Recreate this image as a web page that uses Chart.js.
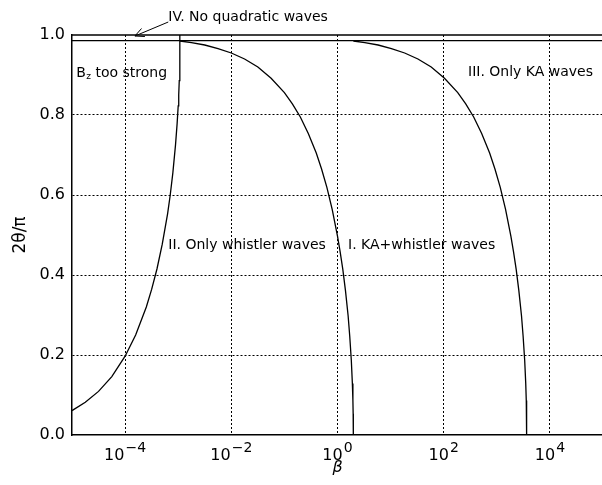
<!DOCTYPE html>
<html>
<head>
<meta charset="utf-8">
<script src="https://cdn.jsdelivr.net/npm/chart.js@4.4.1/dist/chart.umd.min.js"></script>
<style>
  html, body { margin: 0; padding: 0; background: #fff; overflow: hidden; }
  #wrap { width: 606px; height: 485px; }
</style>
</head>
<body>
<div id="wrap"><canvas id="chart" width="606" height="485"></canvas></div>
<script>
// x: beta, y: 2*theta/pi

// left boundary (B_z too strong | only whistler)
const bzBeta  = [1.0e-5, 1.78e-5, 3.16e-5, 5.62e-5, 1.0e-4, 1.58e-4, 2.51e-4, 3.16e-4, 3.98e-4, 5.01e-4, 6.31e-4, 7.08e-4,
                 7.94e-4, 8.91e-4, 9.55e-4, 1.0e-3, 1.023e-3, 1.047e-3, 1.059e-3, 1.072e-3, 1.081e-3, 1.081e-3];
const bzAngle = [0.061, 0.082, 0.109, 0.146, 0.197, 0.250, 0.320, 0.364, 0.415, 0.477, 0.553, 0.600,
                 0.656, 0.726, 0.779, 0.823, 0.850, 0.886, 0.909, 0.939, 0.986, 1.0];

// middle boundary (only whistler | KA+whistler)
const kaBeta  = [1.081e-3, 1.778e-3, 3.162e-3, 5.623e-3, 0.01, 0.01778, 0.03162, 0.05623, 0.1, 0.1413, 0.1995, 0.2818, 0.3981,
                 0.5012, 0.631, 0.7943, 1.0, 1.122, 1.259, 1.413, 1.585, 1.698, 1.82, 1.905, 1.95, 1.972, 1.986];
const kaAngle = [0.985, 0.981, 0.975, 0.966, 0.955, 0.940, 0.920, 0.892, 0.856, 0.828, 0.795, 0.754, 0.705,
                 0.665, 0.619, 0.564, 0.497, 0.458, 0.414, 0.361, 0.298, 0.248, 0.187, 0.129, 0.086, 0.053, 0.0];

// right boundary (KA+whistler | only KA)
const whBeta  = [1.99, 3.27, 5.82, 10.35, 18.4, 32.7, 58.2, 103.5, 184, 260, 367, 519, 733,
                 923, 1162, 1462, 1841, 2066, 2318, 2601, 2918, 3126, 3351, 3507, 3590, 3630, 3656];
const whAngle = [0.985, 0.981, 0.975, 0.966, 0.955, 0.940, 0.920, 0.892, 0.856, 0.828, 0.795, 0.754, 0.705,
                 0.665, 0.619, 0.564, 0.497, 0.458, 0.414, 0.361, 0.298, 0.248, 0.187, 0.129, 0.086, 0.053, 0.0];

// region IV lower edge
const quadBeta  = [1.0e-5, 1.0e5];
const quadAngle = [0.986, 0.986];

const xTickValues = [1e-4, 1e-2, 1, 1e2, 1e4];
const yTickStep = 0.2;

const FONT = '"DejaVu Sans", sans-serif';

function toPoints(xs, ys) {
  return xs.map((v, i) => ({ x: v, y: ys[i] }));
}

function curve(xs, ys) {
  return {
    data: toPoints(xs, ys),
    showLine: true,
    borderColor: '#000',
    borderWidth: 1.3,
    pointRadius: 0,
    tension: 0
  };
}

// frame top edge, x tick labels, region labels and arrow
const decorations = {
  id: 'decorations',
  afterDraw(chart) {
    const { ctx, chartArea: area, scales: { x, y } } = chart;
    ctx.save();

    ctx.strokeStyle = '#000';
    ctx.lineWidth = 1.5;
    ctx.beginPath();
    ctx.moveTo(area.left, area.top);
    ctx.lineTo(area.right, area.top);
    ctx.stroke();

    // 10^n labels
    ctx.fillStyle = '#000';
    ctx.textAlign = 'left';
    ctx.textBaseline = 'alphabetic';
    xTickValues.forEach(v => {
      const px = x.getPixelForValue(v);
      const exp = String(Math.round(Math.log10(v))).replace('-', '\u2212');
      ctx.font = '16px ' + FONT;
      const wBase = ctx.measureText('10').width;
      ctx.font = '14px ' + FONT;
      const wExp = ctx.measureText(exp).width;
      const left = px - (wBase + wExp + 1) / 2;
      ctx.font = '16px ' + FONT;
      ctx.fillText('10', left, area.bottom + 25);
      ctx.font = '14px ' + FONT;
      ctx.fillText(exp, left + wBase + 1, area.bottom + 17);
    });

    // region labels
    ctx.font = '14px ' + FONT;
    ctx.textBaseline = 'middle';
    const labels = [
      { text: 'III. Only KA waves', b: 287, v: 0.9075 },
      { text: 'II. Only whistler waves', b: 6.5e-4, v: 0.475 },
      { text: 'I. KA+whistler waves', b: 1.58, v: 0.475 },
      { text: 'IV. No quadratic waves', b: 6.5e-4, v: 1.045 }
    ];
    labels.forEach(l => ctx.fillText(l.text, x.getPixelForValue(l.b), y.getPixelForValue(l.v)));

    // B_z too strong
    let bx = x.getPixelForValue(1.2e-5);
    const by = y.getPixelForValue(0.905);
    ctx.fillText('B', bx, by);
    bx += ctx.measureText('B').width + 0.5;
    ctx.font = '9px ' + FONT;
    ctx.fillText('z', bx, by + 4);
    bx += ctx.measureText('z').width;
    ctx.font = '14px ' + FONT;
    ctx.fillText(' too strong', bx, by);

    // arrow towards region IV
    const tx = x.getPixelForValue(6.5e-4), ty = y.getPixelForValue(1.0325);
    const hx = x.getPixelForValue(1.53e-4), hy = y.getPixelForValue(0.9975);
    const ang = Math.atan2(ty - hy, tx - hx);
    ctx.lineWidth = 1;
    ctx.beginPath();
    ctx.moveTo(tx, ty);
    ctx.lineTo(hx, hy);
    ctx.moveTo(hx + 10 * Math.cos(ang - 0.45), hy + 10 * Math.sin(ang - 0.45));
    ctx.lineTo(hx, hy);
    ctx.lineTo(hx + 10 * Math.cos(ang + 0.45), hy + 10 * Math.sin(ang + 0.45));
    ctx.stroke();

    ctx.restore();
  }
};

new Chart(document.getElementById('chart'), {
  type: 'scatter',
  data: {
    datasets: [
      curve(bzBeta, bzAngle),
      curve(kaBeta, kaAngle),
      curve(whBeta, whAngle),
      curve(quadBeta, quadAngle)
    ]
  },
  options: {
    responsive: false,
    animation: false,
    layout: { padding: { top: 35, right: 3, left: 0, bottom: 0 } },
    plugins: {
      legend: { display: false },
      tooltip: { enabled: false }
    },
    scales: {
      x: {
        type: 'logarithmic',
        min: 1e-5,
        max: 1e5,
        afterBuildTicks: scale => {
          scale.ticks = xTickValues.map(v => ({ value: v }));
        },
        afterFit: scale => { scale.height = 50; },
        ticks: { display: false },
        grid: { color: '#000', lineWidth: 1, drawTicks: false },
        border: { display: true, color: '#000', width: 1.5, dash: [2, 2] },
        title: {
          display: true,
          text: 'β',
          color: '#000',
          font: { family: FONT, size: 16, style: 'italic' },
          padding: { top: 0, bottom: 8 }
        }
      },
      y: {
        min: 0,
        max: 1,
        afterFit: scale => { scale.width = 72; },
        ticks: {
          stepSize: yTickStep,
          color: '#000',
          padding: 7,
          font: { family: FONT, size: 16 },
          callback: v => v.toFixed(1)
        },
        grid: {
          drawTicks: false,
          lineWidth: 1,
          color: c => (c.tick && (Math.abs(c.tick.value) < 1e-6 || Math.abs(c.tick.value - 1) < 1e-6)) ? 'rgba(0,0,0,0)' : '#000'
        },
        border: { display: true, color: '#000', width: 1.5, dash: [2, 2] },
        title: {
          display: true,
          text: '2θ/π',
          color: '#000',
          font: { family: FONT, size: 17 },
          padding: { top: 10, bottom: 0 }
        }
      }
    }
  },
  plugins: [decorations]
});
</script>
</body>
</html>
